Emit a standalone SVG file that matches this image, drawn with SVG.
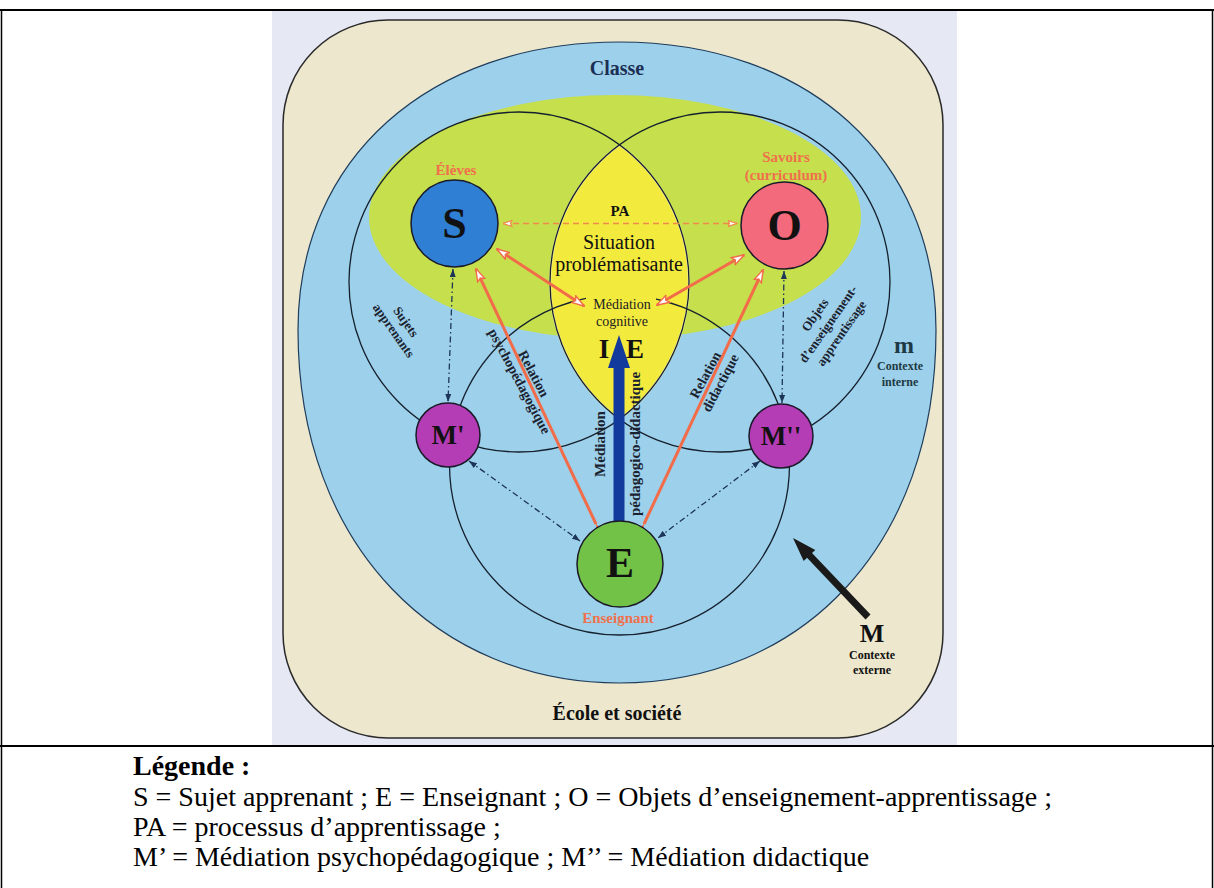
<svg xmlns="http://www.w3.org/2000/svg" width="1214" height="888" viewBox="0 0 1214 888">
<style>
.s{font-family:"Liberation Serif","DejaVu Serif",serif;text-anchor:middle}
.b{font-weight:bold}
.org{fill:#f0704c}
.nav{fill:#111}
.arc{fill:none;stroke:#15202e;stroke-width:1.3}
.ol{stroke:#f26c4a;stroke-width:3;fill:none}
.dd{stroke:#1d3557;stroke-width:1.3;fill:none;stroke-dasharray:6 3 1.5 3}
.node{stroke:#1a1a2a;stroke-width:1.5}
.leg{font-family:"Liberation Serif","DejaVu Serif",serif;font-size:28px;fill:#000}
</style>
<defs>
<marker id="oh" viewBox="0 0 14 10" refX="13" refY="5" markerWidth="14" markerHeight="10" markerUnits="userSpaceOnUse" orient="auto-start-reverse">
<path d="M0.5,1 L13.5,5 L0.5,9 L3,5 Z" fill="#fff" stroke="#f26c4a" stroke-width="1.4"/>
</marker>
<marker id="of" viewBox="0 0 12 8" refX="11" refY="4" markerWidth="12" markerHeight="8" markerUnits="userSpaceOnUse" orient="auto">
<path d="M0,1 L12,4 L0,7 Z" fill="#f26c4a"/>
</marker>
<marker id="pd" viewBox="0 0 10 8" refX="9.5" refY="4" markerWidth="10" markerHeight="8" markerUnits="userSpaceOnUse" orient="auto-start-reverse">
<path d="M0.5,1 L9.5,4 L0.5,7 L2,4 Z" fill="#fff" stroke="#f08a4a" stroke-width="1.2"/>
</marker>
<marker id="nv" viewBox="0 0 8 6" refX="8" refY="3" markerWidth="8" markerHeight="6" markerUnits="userSpaceOnUse" orient="auto-start-reverse">
<path d="M0,0 L8,3 L0,6 Z" fill="#1d3557"/>
</marker>
</defs>

<g id="table" stroke="#000" fill="none">
<line x1="0" y1="10" x2="1214" y2="10" stroke-width="2"/>
<line x1="1.5" y1="10" x2="1.5" y2="888" stroke-width="1.5"/>
<line x1="1212.5" y1="10" x2="1212.5" y2="888" stroke-width="1.5"/>
<line x1="0" y1="746" x2="1214" y2="746" stroke-width="2"/>
</g>

<g id="zones">
<rect x="272" y="11" width="685" height="734" fill="#e6e8f4"/>
<rect x="283" y="20" width="660" height="718" rx="105" ry="105" fill="#ece7cd" stroke="#2a2a2a" stroke-width="1.5"/>
<path d="M619,42 C808,42 936,158 936,330 C936,548 800,683 619,683 C440,683 298,548 298,330 C298,158 430,42 619,42 Z" fill="#9dd0ea" stroke="#1f3d5c" stroke-width="1.2"/>
<ellipse cx="615" cy="217" rx="246" ry="122" fill="#c5df4d"/>
<path d="M619.5,145 A170,170 0 0 1 619.5,419 A170,170 0 0 1 619.5,145 Z" fill="#f3ea3e" stroke="#f6f2b0" stroke-width="2"/>
</g>

<g id="circles">
<circle class="arc" cx="519" cy="282" r="170"/>
<circle class="arc" cx="720" cy="282" r="170"/>
<circle class="arc" cx="619.5" cy="465" r="170"/>
<rect x="586" y="294" width="70" height="38" fill="#f3ea3e"/>
</g>

<g id="connectors">
<line class="ol" x1="584" y1="306" x2="497" y2="249" marker-start="url(#oh)" marker-end="url(#oh)"/>
<line class="ol" x1="657" y1="305" x2="744" y2="255" marker-start="url(#oh)" marker-end="url(#oh)"/>
<line class="ol" x1="596" y1="524" x2="476" y2="269" marker-start="url(#of)" marker-end="url(#oh)"/>
<line class="ol" x1="644" y1="524" x2="763" y2="270" marker-start="url(#of)" marker-end="url(#oh)"/>
<line x1="503" y1="223.5" x2="737" y2="223.5" stroke="#f08a4a" stroke-width="1.5" stroke-dasharray="6 4" marker-start="url(#pd)" marker-end="url(#pd)"/>
<line class="dd" x1="453" y1="269" x2="448" y2="402" marker-start="url(#nv)" marker-end="url(#nv)"/>
<line class="dd" x1="784" y1="271" x2="782" y2="403" marker-start="url(#nv)" marker-end="url(#nv)"/>
<line class="dd" x1="469" y1="461" x2="580" y2="541" marker-start="url(#nv)" marker-end="url(#nv)"/>
<line class="dd" x1="760" y1="461" x2="658" y2="538" marker-start="url(#nv)" marker-end="url(#nv)"/>
<path id="arrow-IE" d="M613.5,521 L613.5,368 L608,368 L619,335 L630,368 L624.5,368 L624.5,521 Z" fill="#123a9c"/>
<path id="arrow-M" d="M870.5,614.6 L812,553 L815.3,549.9 L793,538 L803.7,560.9 L807,557.8 L865.5,619.4 Z" fill="#1a1a1a"/>
</g>

<g id="node-S">
<circle class="node" cx="454.5" cy="223.5" r="43.5" fill="#2f7fd5"/>
<text class="s b nav" x="454.5" y="238" font-size="44">S</text>
</g>
<g id="node-O">
<circle class="node" cx="784.5" cy="225.5" r="43.5" fill="#f26a7c"/>
<text class="s b nav" x="784.5" y="240" font-size="44">O</text>
</g>
<g id="node-M1">
<circle class="node" cx="448" cy="435" r="32" fill="#b43cb4"/>
<text class="s b nav" x="448" y="444" font-size="27">M'</text>
</g>
<g id="node-M2">
<circle class="node" cx="781" cy="436" r="32" fill="#b43cb4"/>
<text class="s b nav" x="781" y="445" font-size="27">M''</text>
</g>
<g id="node-E">
<circle class="node" cx="620" cy="564" r="43" fill="#72c247"/>
<text class="s b nav" x="620" y="577" font-size="42">E</text>
</g>

<g id="labels">
<text class="s b" x="617" y="75" font-size="20" fill="#1b2f55">Classe</text>
<text class="s b org" x="456" y="175" font-size="15">Élèves</text>
<text class="s b org" x="786" y="162" font-size="15">Savoirs</text>
<text class="s b org" x="786" y="180" font-size="15">(curriculum)</text>
<text class="s b" x="620" y="216" font-size="15" fill="#111">PA</text>
<text class="s" x="619" y="249" font-size="20" fill="#111">Situation</text>
<text class="s" x="619" y="271" font-size="20" fill="#111">problématisante</text>
<text class="s" x="622" y="309" font-size="14" fill="#222">Médiation</text>
<text class="s" x="622" y="326" font-size="14" fill="#222">cognitive</text>
<text class="s b" x="604" y="358" font-size="27" fill="#111">I</text>
<text class="s b" x="635" y="358" font-size="27" fill="#111">E</text>
<text class="s b org" x="618" y="623" font-size="15">Enseignant</text>
<g class="s b" font-size="13" fill="#1a2230" transform="translate(400,326) rotate(55)">
<text x="0" y="-3">Sujets</text>
<text x="0" y="12">apprenants</text>
</g>
<g class="s b" font-size="14" fill="#1a2230" transform="translate(526.5,377.5) rotate(62)">
<text x="0" y="-3.5">Relation</text>
<text x="0" y="12.5">psychopédagogique</text>
</g>
<g class="s b" font-size="14" fill="#1a2230" transform="translate(713,379) rotate(-62)">
<text x="0" y="-4">Relation</text>
<text x="0" y="13">didactique</text>
</g>
<g class="s b" font-size="13" fill="#1a2230" transform="translate(828,324) rotate(-55)">
<text x="0" y="-11.5">Objets</text>
<text x="0" y="4.5">d’enseignement-</text>
<text x="0" y="20.5">apprentissage</text>
</g>
<text class="s b" font-size="15" fill="#1a2230" transform="translate(600,444) rotate(-90)" x="0" y="5">Médiation</text>
<text class="s b" font-size="15" fill="#1a2230" transform="translate(636,444) rotate(-90)" x="0" y="4">pédagogico-didactique</text>
<text class="s b" x="904" y="353" font-size="24" fill="#1d3a44">m</text>
<text class="s b" x="900" y="370" font-size="12" fill="#1d3a44">Contexte</text>
<text class="s b" x="900" y="386" font-size="12" fill="#1d3a44">interne</text>
<text class="s b" x="872" y="642" font-size="26" fill="#111">M</text>
<text class="s b" x="872" y="659" font-size="12" fill="#111">Contexte</text>
<text class="s b" x="872" y="674" font-size="12" fill="#111">externe</text>
<text class="s b" x="617" y="720" font-size="20" fill="#111">École et société</text>
</g>

<g id="legend">
<text class="leg" x="133" y="775" font-size="27" font-weight="bold">Légende :</text>
<text class="leg" x="133" y="806">S = Sujet apprenant ; E = Enseignant ; O = Objets d’enseignement-apprentissage ;</text>
<text class="leg" x="133" y="836">PA = processus d’apprentissage ;</text>
<text class="leg" x="133" y="866">M’ = Médiation psychopédagogique ; M’’ = Médiation didactique</text>
</g>
</svg>
